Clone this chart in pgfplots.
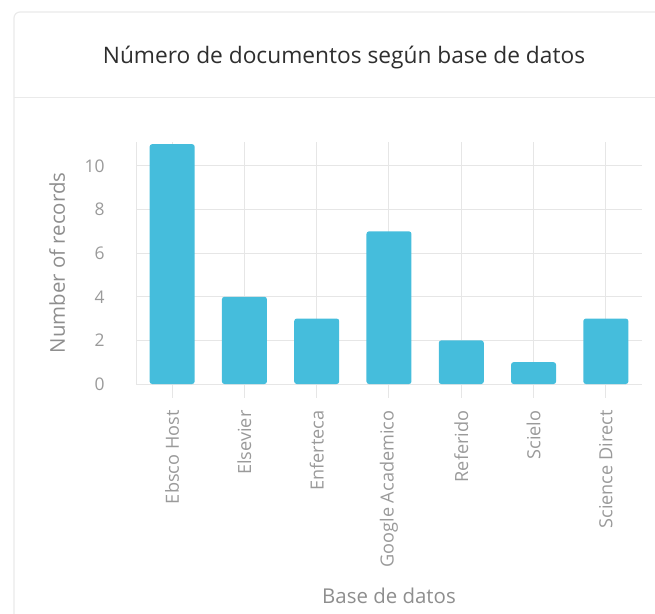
\documentclass[border=0pt]{standalone}
\usepackage{fontspec}
\setmainfont{Open Sans}
\usepackage{pgfplots}
\pgfplotsset{compat=1.18}
\definecolor{barblue}{HTML}{45BDDC}
\definecolor{gridgray}{HTML}{E6E6E6}
\definecolor{ticktext}{HTML}{9A9A9A}
\definecolor{labeltext}{HTML}{8E8E8E}
\definecolor{titletext}{HTML}{2E2E2E}
\definecolor{cardline}{HTML}{EAEAEA}

\begin{document}
\begin{tikzpicture}
\path[use as bounding box] (0bp,0bp) rectangle (655bp,614bp);
\begin{scope}
  \clip (0bp,0bp) rectangle (655bp,614bp);
  % card outline and title separator
  \draw[cardline, line width=1.2bp, rounded corners=6bp] (14bp,-20bp) rectangle (680bp,602bp);
  \draw[cardline, line width=1bp] (14bp,516bp) -- (655bp,516bp);
\end{scope}
\node[titletext, font=\fontsize{22.8}{26}\selectfont] at (344bp,556bp) {Número de documentos según base de datos};

\begin{axis}[
  at={(136bp,230bp)}, anchor=south west,
  scale only axis, width=506bp, height=242bp,
  xmin=-0.5, xmax=6.5, ymin=0, ymax=11.1,
  axis x line*=bottom, axis y line*=left,
  axis line style={gridgray, line width=1bp},
  xmajorgrids, ymajorgrids,
  grid style={gridgray, line width=1bp},
  tick align=outside, major tick length=14bp,
  xtick={0,1,2,3,4,5,6},
  xticklabels={Ebsco Host, Elsevier, Enferteca, Google Academico, Referido, Scielo, Science Direct},
  ytick={0,2,4,6,8,10},
  xtick style={gridgray, line width=1bp},
  ytick style={draw=none},
  /pgf/number format/assume math mode=true,
  x tick label style={rotate=90, anchor=east, ticktext, font=\fontsize{18.2}{21}\selectfont, xshift=-9bp},
  y tick label style={ticktext, font=\fontsize{17.5}{20}\selectfont, xshift=-14bp},
  xlabel={Base de datos},
  ylabel={Number of records},
  label style={labeltext, font=\fontsize{20.5}{24}\selectfont},
  xlabel style={at={(axis description cs:0.5,-0.876)}, anchor=center},
  ylabel style={at={(axis description cs:-0.156,0.5)}, anchor=center},
  clip=false,
]
% grid lines run on past the y axis, as in the reference
\pgfplotsinvokeforeach{0,2,4,6,8,10}{
  \draw[gridgray, line width=1bp] (axis cs:-0.5,#1) -- ++(-26bp,0);
}
\addplot[ybar, bar width=45bp, fill=barblue, draw=none, rounded corners=2.5bp]
  coordinates {(0,11) (1,4) (2,3) (3,7) (4,2) (5,1) (6,3)};
\end{axis}
\end{tikzpicture}
\end{document}
